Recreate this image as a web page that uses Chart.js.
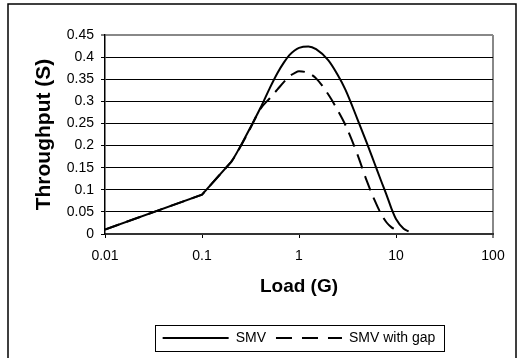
<!DOCTYPE html>
<html>
<head>
<meta charset="utf-8">
<script src="https://cdn.jsdelivr.net/npm/chart.js@4/dist/chart.umd.min.js"></script>
<style>
  html, body { margin: 0; padding: 0; background: #fff; }
  #wrap { width: 523px; height: 358px; }
</style>
</head>
<body>
<div id="wrap"><canvas id="c" width="523" height="358"></canvas></div>
<script>
// ---- data ----
const seriesNames = ['SMV', 'SMV with gap'];
const loadSMV = [0.01, 0.1, 0.2, 0.3, 0.4, 0.5, 0.6, 0.7, 0.8, 0.9, 1, 1.25, 1.5, 2, 2.5, 3, 4, 5, 6, 7, 8, 9, 10, 12, 13.5];
const throughputSMV = [0.01, 0.089, 0.163, 0.232, 0.285, 0.33, 0.364, 0.388, 0.405, 0.415, 0.421, 0.424, 0.418, 0.393, 0.36, 0.327, 0.26, 0.206, 0.16, 0.121, 0.088, 0.057, 0.034, 0.012, 0.006];
const loadGap = [0.01, 0.1, 0.2, 0.3, 0.4, 0.5, 0.6, 0.7, 0.8, 0.9, 1, 1.25, 1.5, 2, 2.5, 3, 4, 5, 6, 7, 8, 9, 9.7];
const throughputGap = [0.01, 0.089, 0.163, 0.23, 0.283, 0.307, 0.327, 0.344, 0.357, 0.364, 0.368, 0.364, 0.352, 0.316, 0.28, 0.247, 0.18, 0.12, 0.077, 0.046, 0.026, 0.015, 0.011];
const xTickValues = [0.01, 0.1, 1, 10, 100];
const xTickLabels = ['0.01', '0.1', '1', '10', '100'];
const yMin = 0, yMax = 0.45, yStep = 0.05;
const xTitle = 'Load (G)';
const yTitle = 'Throughput (S)';

const toPoints = (xs, ys) => xs.map((x, i) => ({ x: x, y: ys[i] }));

const FONT = "'Liberation Sans', Arial, sans-serif";

// Keep the first two segments (0.01 -> 0.1 -> 0.2) straight, as in the reference
const straightStartPlugin = {
  id: 'straightStart',
  beforeDatasetsDraw(chart) {
    chart.data.datasets.forEach((ds, di) => {
      const pts = chart.getDatasetMeta(di).data;
      for (let i = 0; i < 2 && i + 1 < pts.length; i++) {
        const a = pts[i], b = pts[i + 1];
        a.cp2x = a.x; a.cp2y = a.y;
        b.cp1x = b.x; b.cp1y = b.y;
      }
    });
  }
};

const framePlugin = {
  id: 'frame',
  beforeDraw(chart) {
    const ctx = chart.ctx;
    ctx.save();
    ctx.fillStyle = '#fff';
    ctx.fillRect(0, 0, chart.width, chart.height);
    ctx.strokeStyle = '#000';
    ctx.lineWidth = 1.5;
    ctx.strokeRect(8, 4, 508, 360);
    ctx.restore();
  },
  afterDraw(chart) {
    const lg = chart.legend;
    if (!lg || !lg.legendHitBoxes || !lg.legendHitBoxes.length) return;
    const hb = lg.legendHitBoxes;
    const first = hb[0], last = hb[hb.length - 1];
    const cy = first.top + first.height / 2;
    const ctx = chart.ctx;
    ctx.save();
    ctx.strokeStyle = '#000';
    ctx.lineWidth = 1;
    const l = Math.round(first.left - 8) + 0.5;
    const r = Math.round(last.left + last.width + 9) + 0.5;
    const t = Math.round(cy - 13) + 0.5;
    const b = Math.round(cy + 13) + 0.5;
    ctx.strokeRect(l, t, r - l, b - t);
    ctx.restore();
  }
};

new Chart(document.getElementById('c'), {
  type: 'line',
  data: {
    datasets: [
      {
        label: seriesNames[0],
        data: toPoints(loadSMV, throughputSMV),
        borderColor: '#000',
        backgroundColor: '#000',
        borderWidth: 2,
        pointRadius: 0,
        cubicInterpolationMode: 'monotone',
        fill: false
      },
      {
        label: seriesNames[1],
        data: toPoints(loadGap, throughputGap),
        borderColor: '#000',
        backgroundColor: '#000',
        borderWidth: 2,
        borderDash: [15, 8],
        pointRadius: 0,
        cubicInterpolationMode: 'monotone',
        fill: false
      }
    ]
  },
  options: {
    responsive: false,
    animation: false,
    devicePixelRatio: 1,
    layout: { padding: { top: 35, right: 30, left: 0, bottom: 3 } },
    scales: {
      x: {
        type: 'logarithmic',
        min: xTickValues[0],
        max: xTickValues[xTickValues.length - 1],
        afterBuildTicks(scale) {
          scale.ticks = xTickValues.map(v => ({ value: v }));
        },
        afterFit(scale) { scale.height = 87; },
        ticks: {
          autoSkip: false,
          maxRotation: 0,
          padding: 10,
          color: '#000',
          font: { family: FONT, size: 14 },
          callback(value) {
            const i = xTickValues.indexOf(value);
            return i >= 0 ? xTickLabels[i] : '';
          }
        },
        grid: {
          drawOnChartArea: true,
          drawTicks: true,
          tickLength: 4,
          tickColor: '#000',
          tickWidth: 1,
          color: (c) => (c.tick && c.tick.value === 100) ? '#888' : 'rgba(0,0,0,0)',
          lineWidth: (c) => (c.tick && c.tick.value === 100) ? 2 : 1
        },
        border: { display: true, color: '#333', width: 2 },
        title: {
          display: true,
          text: xTitle,
          color: '#000',
          font: { family: FONT, size: 19, weight: 'bold' },
          padding: { top: 0, bottom: 23 }
        }
      },
      y: {
        type: 'linear',
        min: yMin,
        max: yMax,
        afterFit(scale) { scale.width = 105; },
        ticks: {
          stepSize: yStep,
          padding: 7,
          color: '#000',
          font: { family: FONT, size: 14 },
          callback(value) { return String(Math.round(value * 100) / 100); }
        },
        grid: {
          drawTicks: true,
          tickLength: 4,
          tickColor: '#000',
          tickWidth: 1,
          color: (c) => (c.tick && Math.abs(c.tick.value - yMax) < 1e-9) ? '#888' : '#000',
          lineWidth: (c) => (c.tick && Math.abs(c.tick.value - yMax) < 1e-9) ? 2 : 1
        },
        border: { display: true, color: '#000', width: 1.5 },
        title: {
          display: true,
          text: yTitle,
          color: '#000',
          font: { family: FONT, size: 21, weight: 'bold' },
          padding: { top: 32, bottom: 0 }
        }
      }
    },
    plugins: {
      legend: {
        display: true,
        position: 'bottom',
        fullSize: false,
        labels: {
          color: '#000',
          font: { family: FONT, size: 14 },
          usePointStyle: true,
          pointStyle: 'line',
          pointStyleWidth: 66,
          padding: 10,
          generateLabels(chart) {
            const items = Chart.defaults.plugins.legend.labels.generateLabels(chart);
            items.forEach(it => {
              const ds = chart.data.datasets[it.datasetIndex];
              it.lineDash = ds.borderDash ? [16, 10] : [];
              it.lineWidth = 2;
              it.strokeStyle = '#000';
              it.fillStyle = '#000';
            });
            return items;
          }
        }
      },
      tooltip: { enabled: false }
    }
  },
  plugins: [framePlugin, straightStartPlugin]
});
</script>
</body>
</html>
